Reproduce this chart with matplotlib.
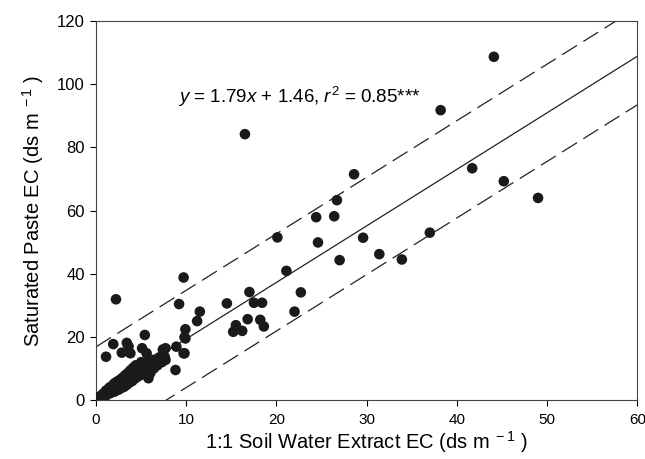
import numpy as np
import matplotlib
matplotlib.use("Agg")
import matplotlib.pyplot as plt

plt.rcParams['font.family'] = ['Liberation Sans', 'DejaVu Sans']
plt.rcParams['mathtext.fontset'] = 'custom'
plt.rcParams['mathtext.rm'] = 'Liberation Sans'
plt.rcParams['mathtext.it'] = 'Liberation Sans:italic'

# 1:1 soil water extract EC (x) vs saturated paste EC (y), dS/m
extract_ec = [
    # dense cluster near origin
    0.1, 0.2, 0.3, 0.4, 0.5, 0.5, 0.6, 0.7, 0.8, 0.9, 1.0, 1.0, 1.1, 1.2, 1.3,
    1.4, 1.5, 1.5, 1.6, 1.7, 1.8, 1.9, 2.0, 2.0, 2.1, 2.2, 2.3, 2.4, 2.5, 2.6,
    2.7, 2.8, 2.9, 3.0, 3.1, 3.2, 3.3, 3.4, 3.5, 3.6, 3.7, 3.8, 3.9, 4.0, 4.1,
    4.2, 4.3, 4.4, 4.5, 4.6, 4.8, 5.0, 5.0, 5.2, 5.4, 5.5, 5.7, 5.9, 6.0, 6.2,
    6.4, 6.6, 6.8, 7.0, 7.3, 7.6, 5.8, 4.9,
    # scattered low values
    1.9, 1.1, 3.4, 3.6, 5.4, 2.85, 3.8, 5.1, 5.6, 6.2, 7.7, 8.8, 9.7, 9.9,
    2.2, 9.7, 9.2, 11.5, 11.2, 9.9, 9.8, 9.8, 8.9, 7.4, 7.7, 6.0, 6.7,
    # mid and high values
    14.5, 15.2, 15.5, 16.2, 16.5, 16.8, 17.0, 17.5, 18.2, 18.4, 18.6,
    20.1, 21.1, 22.0, 22.7, 24.4, 24.6, 26.4, 26.7, 27.0, 28.6, 29.6,
    31.4, 33.9, 37.0, 38.2, 41.7, 44.1, 45.2, 49.0,
]
paste_ec = [
    0.3, 0.5, 0.8, 0.6, 1.2, 0.4, 1.5, 1.0, 2.0, 1.3, 2.4, 1.1, 3.0, 1.8, 2.6,
    3.5, 2.1, 4.0, 3.0, 2.4, 4.5, 3.4, 2.6, 5.2, 4.1, 3.0, 5.8, 4.4, 3.3, 6.3,
    5.0, 3.8, 7.0, 5.6, 4.2, 7.8, 6.2, 4.8, 8.5, 7.0, 5.5, 9.4, 7.6, 6.0, 10.2,
    8.4, 6.8, 11.0, 9.0, 7.4, 10.5, 8.2, 12.0, 9.6, 11.2, 8.6, 10.4, 12.6, 9.2, 11.5,
    10.0, 12.8, 11.0, 13.5, 12.0, 13.7, 6.9, 7.9,
    17.7, 13.7, 18.1, 17.0, 20.6, 15.0, 14.8, 16.4, 14.8, 12.7, 16.4, 9.5, 14.8, 19.5,
    31.9, 38.8, 30.4, 28.0, 25.0, 22.4, 19.9, 14.8, 16.9, 16.0, 12.7, 8.5, 11.6,
    30.6, 21.6, 23.7, 21.9, 84.2, 25.6, 34.2, 30.8, 25.4, 30.8, 23.3,
    51.5, 40.9, 28.0, 34.1, 57.9, 49.9, 58.2, 63.3, 44.3, 71.5, 51.4,
    46.2, 44.5, 53.0, 91.8, 73.4, 108.7, 69.3, 64.0,
]

slope = 1.79
intercept = 1.46
band = 15.4
equation = r'$y$ = 1.79$x$ + 1.46, $r^2$ = 0.85***'

fig = plt.figure(figsize=(6.45, 4.59), dpi=100)
ax = fig.add_axes([0.149, 0.1285, 0.839, 0.8255])

ax.scatter(extract_ec, paste_ec, s=58, color='#1a1a1a', edgecolors='none', zorder=3)

# regression line and parallel prediction bands
xs = np.array([0, 60])
ax.plot(xs, slope * xs + intercept, color='#222222', lw=0.9)
ax.plot(xs, slope * xs + intercept + band, color='#222222', lw=0.9, linestyle=(0, (14, 6)))
ax.plot(xs, slope * xs + intercept - band, color='#222222', lw=0.9, linestyle=(0, (14, 6)))

ax.text(9.1, 96.0, equation, fontsize=13.5, ha='left', va='center')

ax.set_xlim(0, 60)
ax.set_ylim(0, 120)
ax.set_xticks(range(0, 61, 10))
ax.set_yticks(range(0, 121, 20))
ax.tick_params(axis='both', direction='out', length=4, width=0.8,
               top=False, right=False)
ax.tick_params(axis='x', labelsize=11, pad=5)
ax.tick_params(axis='y', labelsize=12, pad=4)
for sp in ax.spines.values():
    sp.set_linewidth(0.8)
    sp.set_color('#444444')

ax.set_xlabel(r'1:1 Soil Water Extract EC (ds m$^{\ -1}$ )', fontsize=14.5, labelpad=2)
ax.set_ylabel(r'Saturated Paste EC (ds m$^{\ -1}$ )', fontsize=14.5, labelpad=8)

fig.savefig('out.png', dpi=100)
